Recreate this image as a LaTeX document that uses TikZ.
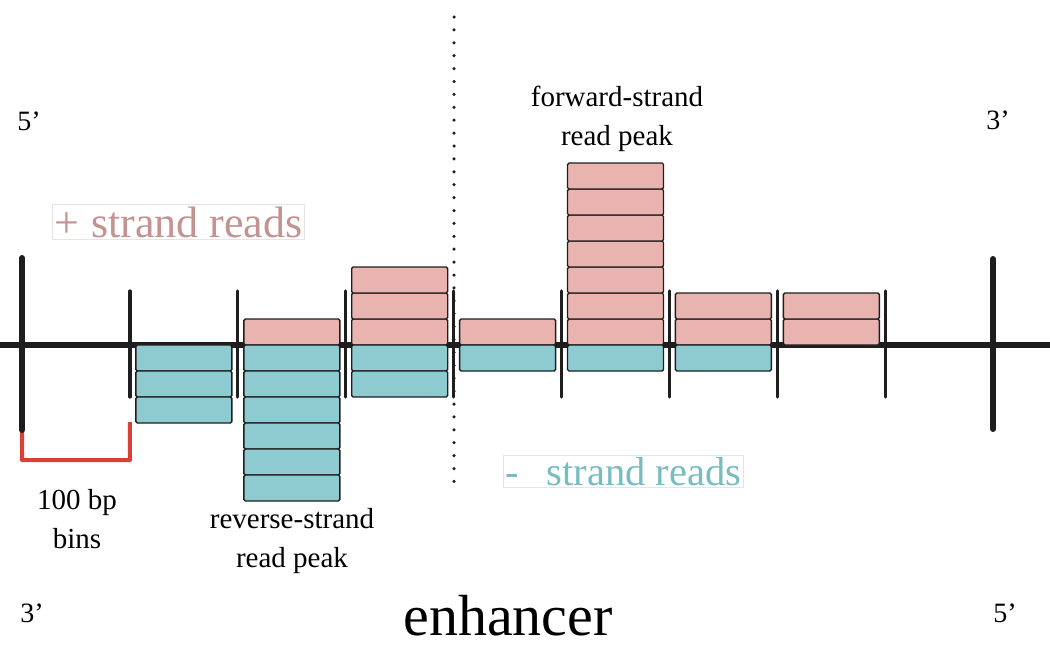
\documentclass[tikz,border=0pt]{standalone}
\usepackage{fontspec}
\setmainfont{Liberation Serif}
\usetikzlibrary{positioning}

\definecolor{plusfill}{RGB}{233,180,176}
\definecolor{minusfill}{RGB}{141,203,208}
\definecolor{plusink}{RGB}{196,146,144}
\definecolor{minusink}{RGB}{120,188,193}
\definecolor{binred}{RGB}{218,62,52}
\definecolor{inkblack}{RGB}{30,30,30}

\begin{document}
\begin{tikzpicture}[x=1pt, y=-1pt,
    readbox/.style={draw=inkblack, line width=1.4pt, rounded corners=1.5pt,
      minimum width=96pt, minimum height=26pt, inner sep=0pt, outer sep=0pt},
    plusread/.style={readbox, fill=plusfill},
    minusread/.style={readbox, fill=minusfill},
    peaktext/.style={font=\fontsize{29}{39}\selectfont, align=center, inner sep=0pt},
    endtext/.style={font=\fontsize{28}{34}\selectfont, inner sep=0pt},
    strandtext/.style={draw=black!10, line width=0.6pt, inner sep=2pt}]

    \useasboundingbox (0,0) rectangle (1050,646);

    % parameters
    \def\binw{107.9}
    \def\axisy{345}
    \def\boxh{26}

    % enhancer centre line
    \coordinate (ctop) at (454,17);
    \coordinate (cbot) at (454,488);
    \draw[inkblack, line width=3.5pt, line cap=round, dash pattern=on 0pt off 12.9pt] (ctop) -- (cbot);

    % genome axis
    \coordinate (axL) at (0,\axisy);
    \coordinate (axR) at (1050,\axisy);
    \draw[inkblack, line width=5.5pt] (axL) -- (axR);

    % bin borders
    \foreach \i in {0,...,9} {
        \coordinate (t\i) at ({22+\i*\binw},\axisy);
    }
    \foreach \i in {1,...,8} {
        \draw[inkblack, line width=3.2pt, line cap=round] ([yshift=54pt]t\i) -- ([yshift=-52pt]t\i);
    }

    % one bin = 100 bp
    \coordinate (bl) at (22,460);
    \coordinate (br) at (130,460);
    \draw[binred, line width=4pt, line join=round] ([yshift=-85pt]t0) -- (bl) -- (br) -- ([yshift=-77pt]t1);

    % region ends
    \draw[inkblack, line width=6pt, line cap=round] ([yshift=87pt]t0) -- ([yshift=-85pt]t0);
    \draw[inkblack, line width=6pt, line cap=round] ([yshift=86pt]t9) -- ([yshift=-84pt]t9);

    % read stacks: bin / plus reads / minus reads
    \foreach \b/\np/\nm in {1/0/3, 2/1/6, 3/3/2, 4/1/1, 5/7/1, 6/2/1, 7/2/0} {
        \ifnum\np>0
            \foreach \k in {1,...,\np}
                \node[plusread] (p\b\k) at ({22+\b*\binw+54},{\axisy-\boxh*(\k-0.5)}) {};
        \fi
        \ifnum\nm>0
            \foreach \k in {1,...,\nm}
                \node[minusread] (m\b\k) at ({22+\b*\binw+54},{\axisy+\boxh*(\k-0.5)}) {};
        \fi
    }

    % strand ends
    \node[endtext, anchor=base] (fiveL) at (29,130) {5'};
    \node[endtext, anchor=base] (threeR) at (998,129) {3'};
    \node[endtext, anchor=base] (threeL) at (32,622) {3'};
    \node[endtext, anchor=base] (fiveR) at (1005,622) {5'};

    % strand legends
    \node[strandtext, anchor=base west, text=plusink, font=\fontsize{44}{50}\selectfont]
        (plus) at (52,237) {+\hspace{12pt}strand reads};
    \node[strandtext, anchor=base west, text=minusink, font=\fontsize{40.5}{46}\selectfont]
        (minus) at (503,485) {-\hspace{28pt}strand reads};

    % peak labels (anchor on last line)
    \node[peaktext, anchor=base] (fwd) at (617,145) {forward-strand\\read peak};
    \node[peaktext, anchor=base] (rev) at (292,567) {reverse-strand\\read peak};
    \node[peaktext, anchor=base] (bins) at (77,548) {100 bp\\bins};

    \node[anchor=base, inner sep=0pt, font=\fontsize{58}{62}\selectfont] (enh) at (508,635) {enhancer};

\end{tikzpicture}
\end{document}
